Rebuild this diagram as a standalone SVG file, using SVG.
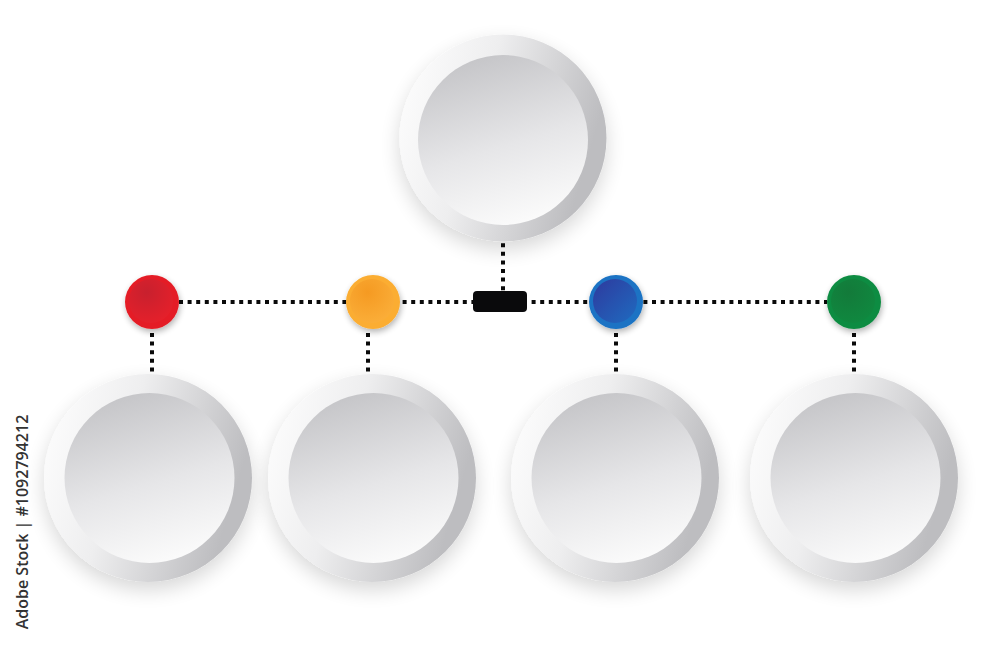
<svg xmlns="http://www.w3.org/2000/svg" width="1000" height="655" viewBox="0 0 1000 655">
<defs>
<linearGradient id="ring" x1="0" y1="0" x2="1" y2="0.3">
<stop offset="0" stop-color="#ffffff"/>
<stop offset="0.45" stop-color="#eeeeef"/>
<stop offset="1" stop-color="#bdbdc0"/>
</linearGradient>
<linearGradient id="face" x1="0.3" y1="0" x2="0.6" y2="1">
<stop offset="0" stop-color="#c4c4c7"/>
<stop offset="0.55" stop-color="#e6e6e8"/>
<stop offset="1" stop-color="#fbfbfb"/>
</linearGradient>
<filter id="sh" x="-30%" y="-30%" width="160%" height="160%">
<feGaussianBlur in="SourceAlpha" stdDeviation="10"/>
<feOffset dx="0" dy="8" result="b"/>
<feComponentTransfer><feFuncA type="linear" slope="0.16"/></feComponentTransfer>
<feMerge><feMergeNode/><feMergeNode in="SourceGraphic"/></feMerge>
</filter>
<filter id="sh2" x="-40%" y="-40%" width="180%" height="180%">
<feGaussianBlur in="SourceAlpha" stdDeviation="3"/>
<feOffset dx="1" dy="3" result="b"/>
<feComponentTransfer><feFuncA type="linear" slope="0.3"/></feComponentTransfer>
<feMerge><feMergeNode/><feMergeNode in="SourceGraphic"/></feMerge>
</filter>
<radialGradient id="red" cx="0.4" cy="0.3" r="0.8"><stop offset="0" stop-color="#c8202e"/><stop offset="1" stop-color="#e8202a"/></radialGradient>
<radialGradient id="orange" cx="0.4" cy="0.3" r="0.8"><stop offset="0" stop-color="#f59a22"/><stop offset="1" stop-color="#fbb03b"/></radialGradient>
<linearGradient id="blue" x1="0" y1="0" x2="1" y2="1"><stop offset="0" stop-color="#2e3a9e"/><stop offset="1" stop-color="#1f6bc0"/></linearGradient>
<radialGradient id="green" cx="0.4" cy="0.3" r="0.8"><stop offset="0" stop-color="#137a3a"/><stop offset="1" stop-color="#0f8a40"/></radialGradient>
</defs>
<style>
.dot{fill:none;stroke:#0a0a0a;stroke-width:4;stroke-dasharray:4 4.6}
.ringc{fill:url(#ring)}
.facec{fill:url(#face)}
.lbl{font-family:"Open Sans","Liberation Sans",sans-serif;font-size:16px;font-weight:600;fill:#333333}
</style>
<rect width="1000" height="655" fill="#ffffff"/>
<g id="connectors">
<line class="dot" x1="179" y1="302" x2="827" y2="302"/>
<line class="dot" x1="503" y1="226" x2="503" y2="292"/>
<line class="dot" x1="152" y1="333" x2="152" y2="372"/>
<line class="dot" x1="368" y1="333" x2="368" y2="372"/>
<line class="dot" x1="616" y1="333" x2="616" y2="372"/>
<line class="dot" x1="854" y1="333" x2="854" y2="372"/>
</g>
<g id="top-circle">
<circle class="ringc" cx="503" cy="138" r="103.5" filter="url(#sh)"/>
<circle class="facec" cx="503" cy="140" r="85"/>
</g>
<g id="circle-1">
<circle class="ringc" cx="148" cy="478" r="104" filter="url(#sh)"/>
<circle class="facec" cx="149.5" cy="478" r="85"/>
</g>
<g id="circle-2">
<circle class="ringc" cx="372" cy="478" r="104" filter="url(#sh)"/>
<circle class="facec" cx="373.5" cy="478" r="85"/>
</g>
<g id="circle-3">
<circle class="ringc" cx="615" cy="478" r="104" filter="url(#sh)"/>
<circle class="facec" cx="616.5" cy="478" r="85"/>
</g>
<g id="circle-4">
<circle class="ringc" cx="854" cy="478" r="104" filter="url(#sh)"/>
<circle class="facec" cx="855.5" cy="478" r="85"/>
</g>
<g id="hub">
<rect x="473" y="291" width="54" height="21" rx="4" fill="#0a0a0c"/>
</g>
<g id="dot-red">
<circle cx="152" cy="302" r="27" fill="#e41e26" filter="url(#sh2)"/>
<circle cx="151" cy="301" r="22" fill="url(#red)"/>
</g>
<g id="dot-orange">
<circle cx="373" cy="302" r="27" fill="#fbad32" filter="url(#sh2)"/>
<circle cx="372" cy="301" r="22" fill="url(#orange)"/>
</g>
<g id="dot-blue">
<circle cx="616" cy="302" r="27" fill="#1a73c4" filter="url(#sh2)"/>
<circle cx="615" cy="301" r="22" fill="url(#blue)"/>
</g>
<g id="dot-green">
<circle cx="854" cy="302" r="27" fill="#0e8c42" filter="url(#sh2)"/>
<circle cx="853" cy="301" r="22" fill="url(#green)"/>
</g>
<text class="lbl" x="0" y="0" transform="translate(28,522) rotate(-90)" text-anchor="middle">Adobe Stock | #1092794212</text>
</svg>
